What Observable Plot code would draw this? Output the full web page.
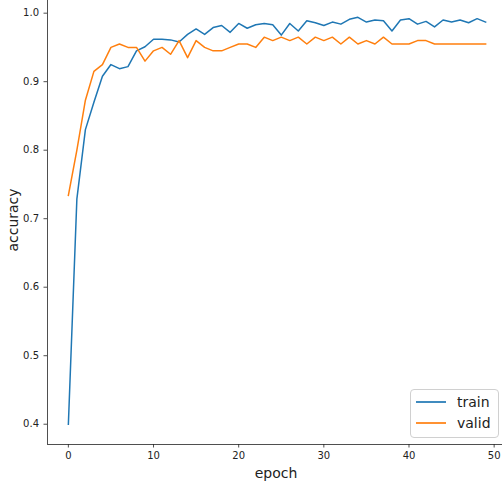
<!DOCTYPE html>
<html>
<head>
<meta charset="utf-8">
<script src="https://cdn.jsdelivr.net/npm/d3@7"></script>
<script src="https://cdn.jsdelivr.net/npm/@observablehq/plot@0.6"></script>
<style>
  html, body { margin: 0; padding: 0; background: #fff; overflow: hidden; }
  #wrap { position: relative; width: 502px; height: 488px; overflow: hidden; font-family: "DejaVu Sans", sans-serif; }
  #chart { width: 506px; }
  #chart svg { display: block; max-width: none !important; width: 506px !important; height: 488px !important; }
  .lbl { position: absolute; font-size: 14px; color: #222; white-space: nowrap; line-height: 1; }
  #legend { position: absolute; left: 410px; top: 389px; width: 89px; height: 49px; border: 1px solid #d0d0d0; border-radius: 4px; background: rgba(255,255,255,0.8); box-sizing: border-box; }
  .entry { position: absolute; left: 0; height: 16px; }
  .swatch { position: absolute; left: 5px; width: 30px; height: 2px; opacity: 0.85; }
  .entry span { position: absolute; left: 46px; font-size: 14px; color: #222; line-height: 1; white-space: nowrap; }
</style>
</head>
<body>
<div id="wrap">
  <div id="chart"></div>
  <div class="lbl" id="ylab" style="left:13px; top:220px; transform: translate(-50%,-50%) rotate(-90deg);">accuracy</div>
  <div class="lbl" id="xlab" style="left:276px; top:473px; transform: translate(-50%,-50%);">epoch</div>
  <div id="legend"></div>
</div>
<script>
const seriesNames = ["train", "valid"];
const seriesColors = ["#1f77b4", "#ff7f0e"];
const train = [0.400, 0.729, 0.830, 0.870, 0.908, 0.925, 0.919, 0.922, 0.945, 0.951,
               0.962, 0.962, 0.961, 0.958, 0.969, 0.977, 0.969, 0.979, 0.982, 0.972,
               0.985, 0.978, 0.983, 0.985, 0.983, 0.968, 0.985, 0.974, 0.989, 0.986,
               0.982, 0.987, 0.984, 0.991, 0.994, 0.987, 0.990, 0.989, 0.974, 0.990,
               0.992, 0.984, 0.988, 0.980, 0.990, 0.987, 0.990, 0.986, 0.992, 0.987];
const valid = [0.734, 0.800, 0.873, 0.915, 0.925, 0.950, 0.955, 0.950, 0.950, 0.930,
               0.945, 0.950, 0.940, 0.960, 0.935, 0.960, 0.950, 0.945, 0.945, 0.950,
               0.955, 0.955, 0.950, 0.965, 0.960, 0.965, 0.960, 0.965, 0.955, 0.965,
               0.960, 0.965, 0.955, 0.965, 0.955, 0.960, 0.955, 0.965, 0.955, 0.955,
               0.955, 0.960, 0.960, 0.955, 0.955, 0.955, 0.955, 0.955, 0.955, 0.955];
const xTicks = [0, 10, 20, 30, 40, 50];
const yTicks = [0.4, 0.5, 0.6, 0.7, 0.8, 0.9, 1.0];
const xDomain = [-2.45, 51.45];
const yDomain = [0.3704, 1.0185];

const rows = [];
[train, valid].forEach((vals, s) => vals.forEach((v, i) => rows.push({epoch: i, acc: v, series: seriesNames[s]})));

const plot = Plot.plot({
  width: 506,
  height: 488,
  marginLeft: 47,
  marginRight: 0,
  marginTop: 0,
  marginBottom: 44,
  style: {fontFamily: "DejaVu Sans, sans-serif", fontSize: "10px", color: "#222", background: "#fff", maxWidth: "none"},
  x: {domain: xDomain, ticks: xTicks, label: null},
  y: {domain: yDomain, ticks: yTicks, label: null},
  color: {domain: seriesNames, range: seriesColors},
  marks: [
    Plot.axisX({ticks: xTicks, tickSize: 3.5, tickPadding: 4, tickFormat: d3.format("d"), label: null, stroke: "#222", strokeWidth: 0.8}),
    Plot.axisY({ticks: yTicks, tickSize: 3.5, tickPadding: 5, tickFormat: d3.format(".1f"), label: null, stroke: "#222", strokeWidth: 0.8}),
    Plot.ruleX([xDomain[0]], {stroke: "#222", strokeWidth: 0.8}),
    Plot.ruleY([yDomain[0]], {stroke: "#222", strokeWidth: 0.8}),
    Plot.line(rows, {x: "epoch", y: "acc", z: "series", stroke: "series", strokeWidth: 1.5, strokeLinejoin: "round", strokeLinecap: "square"})
  ]
});
document.getElementById("chart").appendChild(plot);

const legend = document.getElementById("legend");
seriesNames.forEach((name, i) => {
  const e = document.createElement("div");
  e.className = "entry";
  e.style.top = (12 + i * 21 - 8) + "px";
  e.style.width = "100%";
  const sw = document.createElement("div");
  sw.className = "swatch";
  sw.style.top = "7px";
  sw.style.background = seriesColors[i];
  const t = document.createElement("span");
  t.textContent = name;
  t.style.top = "1px";
  e.appendChild(sw);
  e.appendChild(t);
  legend.appendChild(e);
});
</script>
</body>
</html>
